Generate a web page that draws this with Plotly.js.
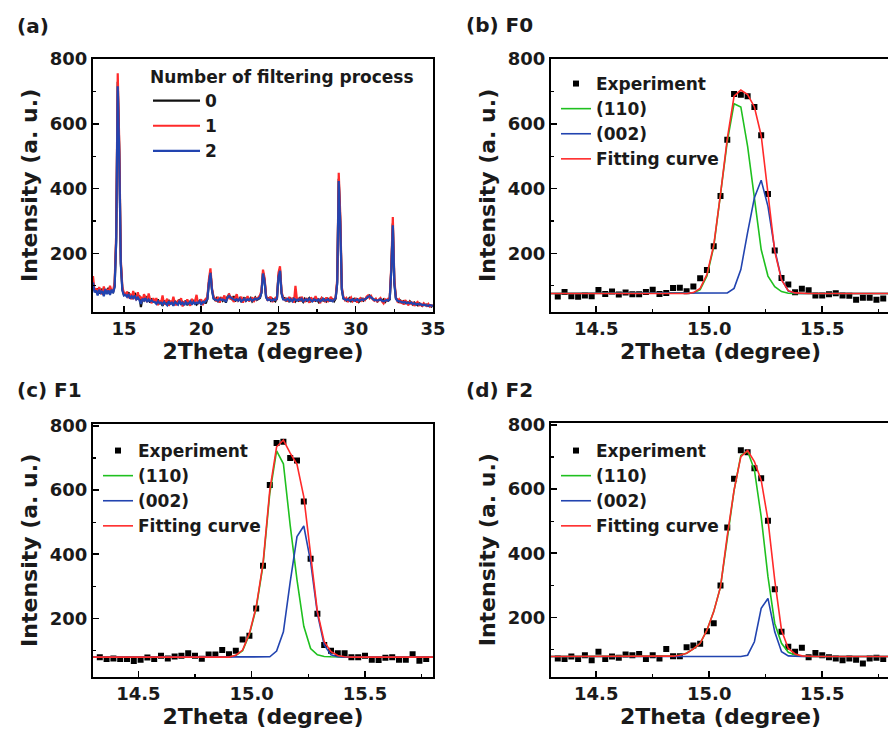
<!DOCTYPE html>
<html><head><meta charset="utf-8">
<script src="https://cdn.plot.ly/plotly-3.0.1.min.js"></script>
<style>html,body{margin:0;padding:0;overflow:hidden;background:#fff;} #chart{width:890px;height:731px;}</style>
</head><body><div id="chart"></div>
<script>
// ---------- Panel (a): XRD patterns, 2theta from 13.0 step 0.1 ----------
const xrdStart = 13.0, xrdStep = 0.1;
const xrd0 = [95,88,80,92,76,84,90,72,86,80,94,78,82,
  80,100,240,730,520,170,90,72,
  75,68,80,64,72,60,78,66,58,70,34,62,56,68,52,60,48,58,54,
  52,46,58,44,50,38,54,48,42,56,46,50,40,52,48,44,58,42,50,46,54,40,48,52,44,56,46,42,50,54,44,48,52,46,
  60,110,142,88,62,
  56,62,50,58,64,54,60,48,66,72,62,58,68,52,60,56,62,50,58,64,54,60,56,62,52,58,64,56,60,62,
  80,140,118,66,
  58,62,54,60,56,52,62,
  130,150,78,60,
  62,54,58,50,60,56,64,52,58,54,62,56,50,60,54,58,62,52,56,60,54,58,50,56,62,54,58,52,60,56,54,58,52,60,
  110,430,300,90,62,
  60,54,58,62,52,56,60,54,58,50,56,60,54,58,62,66,70,64,60,56,58,52,56,60,54,58,50,56,54,58,
  150,292,110,62,
  56,50,54,48,52,46,50,44,52,46,42,48,44,40,46,42,38,44,40,42,38,40,36,40];
const xrd1 = [130,84,92,78,96,82,74,98,80,90,76,100,84,
  84,110,260,756,540,180,96,78,
  70,82,62,76,58,84,64,56,80,60,66,52,74,58,50,76,56,46,62,
  48,62,40,54,46,70,42,52,60,38,54,44,66,46,40,56,48,62,36,52,44,58,50,38,60,46,52,72,44,50,58,40,54,60,
  64,120,154,92,66,
  60,52,66,48,62,58,70,54,60,76,58,66,50,62,74,54,58,66,48,60,56,68,52,58,64,50,62,58,66,70,
  84,150,124,70,
  54,60,66,50,58,62,56,
  140,160,82,62,
  56,60,52,66,54,62,48,100,56,60,52,66,58,50,62,56,48,64,58,52,68,54,60,46,62,58,52,64,50,58,66,52,60,64,
  118,449,320,96,66,
  56,62,50,58,64,52,56,60,48,58,62,54,60,56,66,70,62,68,58,54,60,50,58,62,52,46,58,54,60,62,
  160,312,118,64,
  52,58,46,54,42,56,48,40,50,44,48,38,46,50,40,44,36,46,42,38,44,36,40,38];
const xrd2 = [110,80,86,70,88,78,84,68,90,74,86,72,88,
  78,96,235,716,500,165,85,70,
  72,66,74,60,68,62,70,58,64,56,44,60,54,62,50,58,52,55,50,
  50,44,52,46,48,42,50,46,40,52,44,48,38,50,46,42,54,44,48,40,50,44,46,52,42,50,44,48,46,52,42,50,48,54,
  58,108,140,86,60,
  58,56,54,60,56,58,54,52,62,68,64,60,58,56,58,54,60,52,56,60,54,58,56,60,54,56,60,58,62,64,
  78,138,114,64,
  56,58,56,54,58,56,60,
  126,146,76,58,
  58,56,60,54,58,52,60,56,54,58,56,60,52,56,58,54,60,56,52,58,56,54,58,52,56,60,54,56,58,54,56,52,58,62,
  105,423,290,88,60,
  58,56,58,54,56,58,54,56,58,54,56,58,56,58,62,66,68,64,60,56,56,54,56,58,54,52,54,56,54,60,
  146,287,106,60,
  54,52,50,50,48,50,46,48,46,48,44,46,42,44,42,44,40,42,40,40,38,40,38,38];
const xrdNames = ['0', '1', '2'];

// ---------- Panels (b)-(d): fits, experiment from 14.33 step 0.03, curves from 14.30 step 0.03 ----------
const expStart = 14.33, fitStart = 14.30, stepFine = 0.03;
const expF0 = [67,81,68,66,70,68,87,75,82,73,79,74,74,81,88,75,78,93,94,83,98,123,149,222,377,551,692,690,685,652,565,383,209,124,104,80,91,86,70,70,74,77,70,69,57,63,63,57,61];
const g110F0 = [76,76,76,76,76,76,76,76,76,76,76,76,76,76,76,76,76,76,76,76,76,
  78,88,130,220,375,545,662,652,530,368,212,130,97,82,77,
  76,76,76,76,76,76,76,76,76,76,76,76,76,76,76];
const b002F0 = [76,76,76,76,76,76,76,76,76,76,76,76,76,76,76,76,76,76,76,76,76,76,76,76,76,76,
  78,92,150,265,372,426,345,212,120,84,77,
  76,76,76,76,76,76,76,76,76,76,76,76,76,76];
const fitF0 = [76,76,76,76,76,76,76,76,76,76,76,76,76,76,76,76,76,76,76,76,76,
  79,92,135,225,383,554,685,704,690,652,564,386,206,118,85,78,
  76,76,76,76,76,76,76,76,76,76,76,76,76,76];

const expF1 = [79,73,75,73,73,67,71,78,73,83,75,81,83,91,83,74,87,87,101,88,99,134,146,231,364,616,747,751,700,692,564,386,214,117,99,91,91,79,79,83,71,70,77,79,71,71,88,68,73];
const g110F1 = [79,79,79,79,79,79,79,79,79,79,79,79,79,79,79,79,79,79,79,79,79,
  84,99,150,232,365,590,722,682,490,320,175,106,86,81,80,
  79,79,79,79,79,79,79,79,79,79,79,79,79,79,79];
const b002F1 = [79,79,79,79,79,79,79,79,79,79,79,79,79,79,79,79,79,79,79,79,79,79,79,79,79,79,
  80,98,158,314,455,488,377,215,117,86,80,
  79,79,79,79,79,79,79,79,79,79,79,79,79,79];
const fitF1 = [79,79,79,79,79,79,79,79,79,79,79,79,79,79,79,79,79,79,79,79,79,
  85,101,153,236,371,600,735,756,715,680,579,392,221,127,96,84,80,
  79,79,79,79,79,79,79,79,79,79,79,79,79];

const expF2 = [72,70,78,70,82,66,93,70,78,74,84,82,86,70,82,72,101,79,79,107,112,118,157,182,299,480,632,721,715,665,634,501,288,155,108,93,105,76,89,82,76,72,66,72,68,56,72,74,70];
const g110F2 = [78,78,78,78,78,78,78,78,78,78,78,78,78,78,78,78,78,78,
  79,82,88,102,119,160,218,295,453,595,705,718,660,514,327,181,119,91,83,79,
  78,78,78,78,78,78,78,78,78,78,78,78,78];
const b002F2 = [78,78,78,78,78,78,78,78,78,78,78,78,78,78,78,78,78,78,78,78,78,78,78,78,78,78,78,78,78,
  82,124,228,259,155,93,80,
  78,78,78,78,78,78,78,78,78,78,78,78,78,78,78];
const fitF2 = [78,78,78,78,78,78,78,78,78,78,78,78,78,78,78,78,78,78,
  79,82,88,102,119,160,218,295,455,597,701,720,686,628,504,316,160,103,86,80,
  78,78,78,78,78,78,78,78,78,78,78,78,78];

const fitNames = ['Experiment', '(110)', '(002)', 'Fitting curve'];
const panelLabels = ['(a)', '(b) F0', '(c) F1', '(d) F2'];
const xTitle = '2Theta (degree)', yTitle = 'Intensity (a. u.)';

// sanity checks
[[xrd0,221],[xrd1,221],[xrd2,221],[expF0,49],[expF1,49],[expF2,49],
 [g110F0,51],[b002F0,51],[fitF0,51],[g110F1,51],[b002F1,51],[fitF1,51],[g110F2,51],[b002F2,51],[fitF2,51]]
 .forEach(([a,n],i)=>{ if(a.length!==n) throw new Error('array '+i+' length '+a.length+' != '+n); });

const F = 'DejaVu Sans';
const cBlack = '#111111', cRed = '#ff2a2a', cBlue = '#2244b0', cGreen = '#1fc01f';
const W = 890, H = 731;

const traces = [];
[[xrd0,cBlack],[xrd1,cRed],[xrd2,cBlue]].forEach(([y,c],i)=>{
  traces.push({type:'scatter', mode:'lines', x0:xrdStart, dx:xrdStep, y:y, name:xrdNames[i],
    line:{color:c, width:2.2}, xaxis:'x', yaxis:'y', legend:'legend'});
});
const sets = [[expF0,g110F0,b002F0,fitF0],[expF1,g110F1,b002F1,fitF1],[expF2,g110F2,b002F2,fitF2]];
sets.forEach((s,k)=>{
  const ax = String(k+2);
  const lg = 'legend'+ax;
  traces.push({type:'scatter', mode:'markers', x0:expStart, dx:stepFine, y:s[0], name:fitNames[0],
    marker:{symbol:'square', size:6, color:'#000'}, xaxis:'x'+ax, yaxis:'y'+ax, legend:lg});
  traces.push({type:'scatter', mode:'lines', x0:fitStart, dx:stepFine, y:s[1], name:fitNames[1],
    line:{color:cGreen, width:1.6}, xaxis:'x'+ax, yaxis:'y'+ax, legend:lg});
  traces.push({type:'scatter', mode:'lines', x0:fitStart, dx:stepFine, y:s[2], name:fitNames[2],
    line:{color:cBlue, width:1.6}, xaxis:'x'+ax, yaxis:'y'+ax, legend:lg});
  traces.push({type:'scatter', mode:'lines', x0:fitStart, dx:stepFine, y:s[3], name:fitNames[3],
    line:{color:cRed, width:1.6}, xaxis:'x'+ax, yaxis:'y'+ax, legend:lg});
});

const tickFont = {family:F, size:18, color:'#1a1a1a', weight:'bold'};
const titleFont = {family:F, size:22, color:'#1a1a1a', weight:'bold'};
const legFont = {family:F, size:17, color:'#1a1a1a', weight:'bold'};
function xa(dom, range, dtick, mdtick, fmt){
  return {domain:dom, range:range, dtick:dtick, tick0:0, tickformat:fmt, showline:true, linecolor:'#000', linewidth:2,
    mirror:true, ticks:'inside', ticklen:6, tickwidth:1.5, tickcolor:'#000', showgrid:false, zeroline:false,
    tickfont:tickFont, minor:{dtick:mdtick, ticks:'inside', ticklen:3, tickwidth:1.2, tickcolor:'#000', showgrid:false},
    title:{text:xTitle, font:titleFont, standoff:0}};
}
function ya(dom, range){
  return {domain:dom, range:range, dtick:200, tick0:0, showline:true, linecolor:'#000', linewidth:2,
    mirror:true, ticks:'inside', ticklen:6, tickwidth:1.5, tickcolor:'#000', showgrid:false, zeroline:false,
    tickfont:tickFont, minor:{dtick:100, ticks:'inside', ticklen:3, tickwidth:1.2, tickcolor:'#000', showgrid:false},
    title:{text:yTitle, font:titleFont, standoff:6}};
}
const px = v=>v/W, py = v=>1-v/H;
const leftDom = [px(93), px(433)], rightDom = [px(551), 1];
const topDom = [py(311.7), py(59)], botDomC = [py(676.7), py(424)], botDomD = [py(676.7), py(422.7)];

function leg(x, y, extra){
  return Object.assign({x:px(x), y:py(y), xanchor:'left', yanchor:'top', bgcolor:'rgba(0,0,0,0)', borderwidth:0,
    font:legFont, tracegroupgap:0}, extra||{});
}

const layout = {
  width:W, height:H, margin:{l:0,r:0,t:0,b:0}, paper_bgcolor:'#fff', plot_bgcolor:'#fff', showlegend:true,
  xaxis: Object.assign(xa(leftDom,[13,35],5,2.5,''), {anchor:'y'}),
  yaxis: Object.assign(ya(topDom,[20,800]), {anchor:'x'}),
  xaxis2: Object.assign(xa(rightDom,[14.3,15.8],0.5,0.25,'.1f'), {anchor:'y2'}),
  yaxis2: Object.assign(ya(topDom,[20,800]), {anchor:'x2'}),
  xaxis3: Object.assign(xa(leftDom,[14.3,15.8],0.5,0.25,'.1f'), {anchor:'y3'}),
  yaxis3: Object.assign(ya(botDomC,[18,806]), {anchor:'x3'}),
  xaxis4: Object.assign(xa(rightDom,[14.3,15.8],0.5,0.25,'.1f'), {anchor:'y4'}),
  yaxis4: Object.assign(ya(botDomD,[15,807]), {anchor:'x4'}),
  legend: leg(148, 61, {title:{text:'Number of filtering process', font:legFont}, itemwidth:47}),
  legend2: leg(556, 66),
  legend3: leg(98, 433),
  legend4: leg(556, 433),
  annotations: [
    {text:panelLabels[0], x:px(15), y:py(26), xref:'paper', yref:'paper', xanchor:'left', yanchor:'middle', showarrow:false, font:{family:F,size:20,color:'#1a1a1a',weight:'bold'}},
    {text:panelLabels[1], x:px(464), y:py(25), xref:'paper', yref:'paper', xanchor:'left', yanchor:'middle', showarrow:false, font:{family:F,size:20,color:'#1a1a1a',weight:'bold'}},
    {text:panelLabels[2], x:px(15), y:py(390), xref:'paper', yref:'paper', xanchor:'left', yanchor:'middle', showarrow:false, font:{family:F,size:20,color:'#1a1a1a',weight:'bold'}},
    {text:panelLabels[3], x:px(464), y:py(390), xref:'paper', yref:'paper', xanchor:'left', yanchor:'middle', showarrow:false, font:{family:F,size:20,color:'#1a1a1a',weight:'bold'}}
  ]
};
Plotly.newPlot('chart', traces, layout, {displayModeBar:false, staticPlot:true});
</script></body></html>
